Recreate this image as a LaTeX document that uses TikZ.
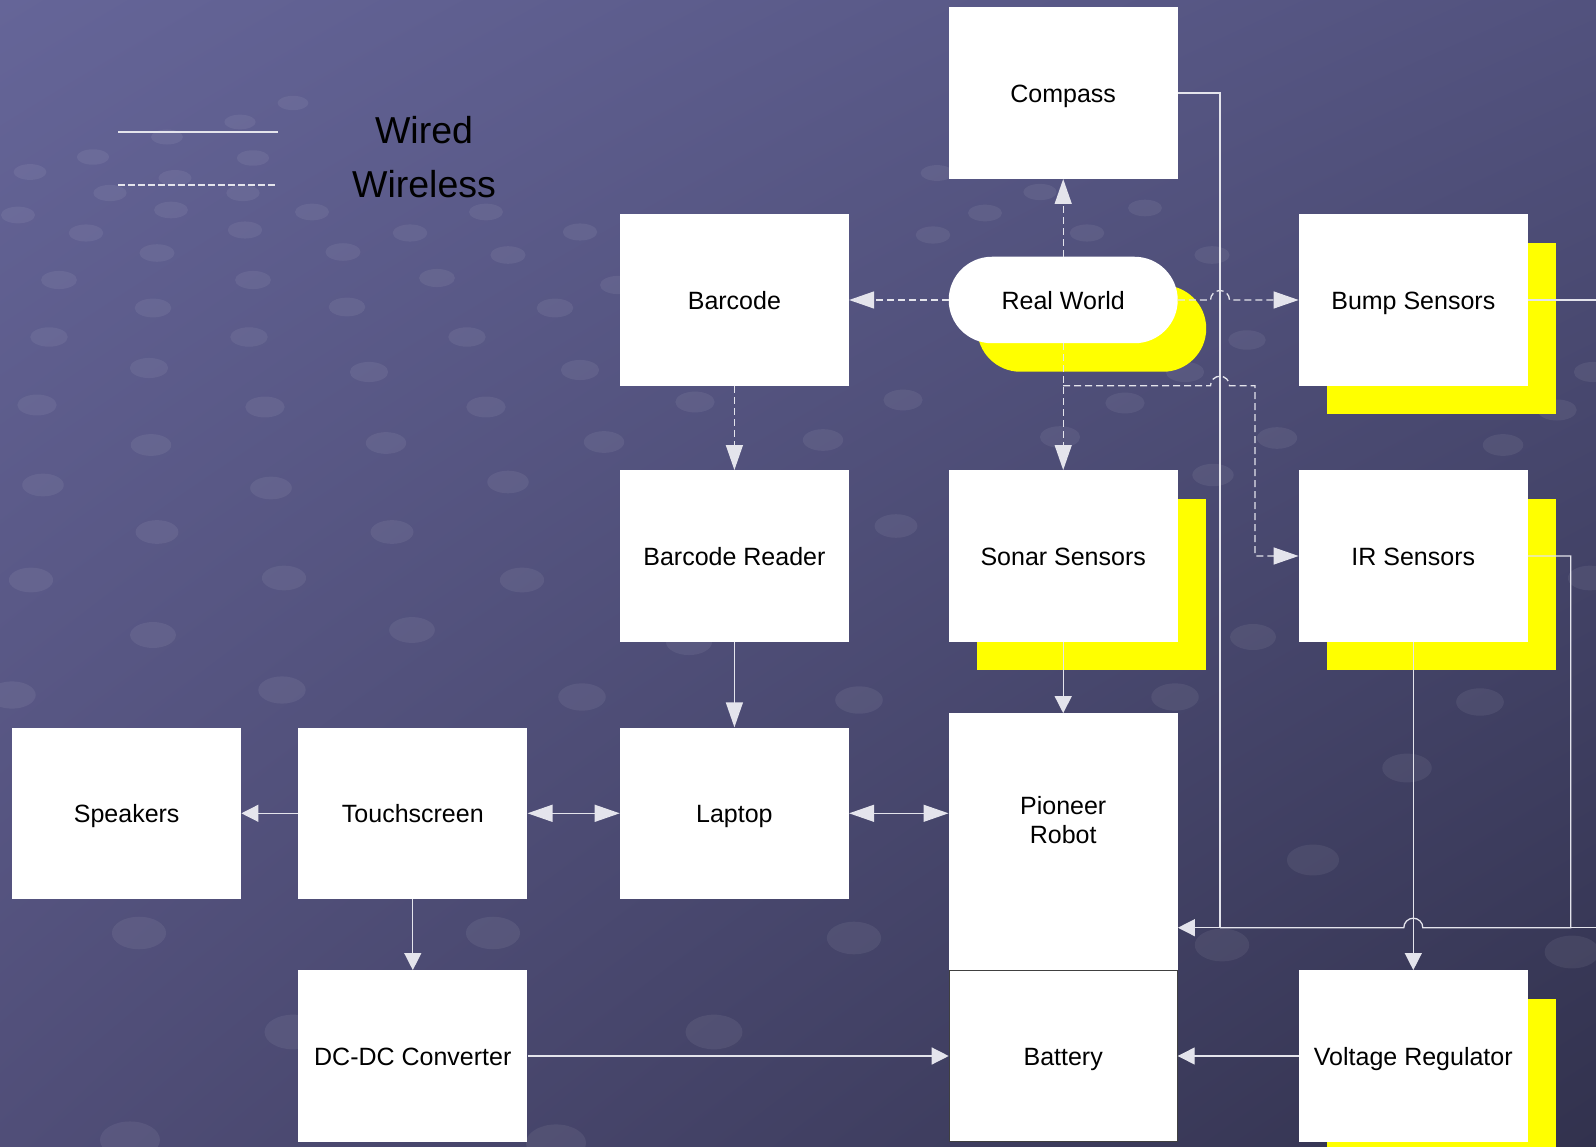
\documentclass[tikz,border=0pt]{standalone}
\usepackage{fontspec}
\setmainfont{Liberation Sans}
\usetikzlibrary{arrows.meta,calc,shadows,shadings}

\definecolor{bgtl}{RGB}{101,101,152}
\definecolor{bgtr}{RGB}{82,82,126}
\definecolor{bgbl}{RGB}{80,78,120}
\definecolor{bgbr}{RGB}{50,50,78}
\definecolor{wire}{RGB}{228,228,236}
\definecolor{shadowyellow}{RGB}{255,255,0}

\tikzset{
  blk/.style={fill=white, minimum width=229pt, minimum height=171.5pt, inner sep=0pt,
    align=center, text height=18.25pt, text depth=0pt, font=\fontsize{25}{29}\selectfont},
  ylw/.style={drop shadow={shadow xshift=28.5pt, shadow yshift=-28.5pt, fill=shadowyellow, opacity=1}},
  wired/.style={draw=wire, line width=1.3pt},
  wireless/.style={draw=wire, line width=1.3pt, dash pattern=on 7pt off 4pt},
  bigtip/.style={-{Triangle[length=25pt,width=17pt]}},
  smalltip/.style={-{Triangle[length=17pt,width=17pt]}},
  bothtip/.style={{Triangle[length=25pt,width=17pt]}-{Triangle[length=25pt,width=17pt]}},
  dot/.style={fill=white, fill opacity=0.065},
  legendtxt/.style={font=\fontsize{37.5}{42}\selectfont, text=black},
}

\begin{document}
\begin{tikzpicture}[x=1pt, y=-1pt]
  \useasboundingbox (0,0) rectangle (1596,1147);

  % background
  \shade[upper left=bgtl, upper right=bgtr, lower left=bgbl, lower right=bgbr] (0,0) rectangle (1596,1147);
  \foreach \px/\py [evaluate=\py as \rx using 14+0.014*\py, evaluate=\py as \ry using 6+0.011*\py] in
     {240/122, 293/103, 167/137, 93/157, 253/158, 30/172, 175/178, 110/193, 243/193,
      18/215, 171/210, 312/212, 486/212, 86/233, 245/230, 410/233, 580/232, 157/253, 343/252,
      508/255, 59/280, 253/280, 437/278, 618/285, 153/308, 347/307, 555/308, 49/337, 249/337,
      467/337, 149/368, 369/372, 580/370, 37/405, 265/407, 486/407, 151/445, 386/443, 604/442,
      43/485, 271/488, 508/482, 157/532, 392/532, 31/580, 284/578, 522/580, 153/635, 412/630,
      12/695, 282/690, 582/697, 937/173, 985/213, 933/235, 1040/192, 1145/208, 1087/233,
      695/402, 823/440, 903/400, 1185/372, 1125/403, 1060/437, 1277/438, 1213/475, 896/526,
      1212/255, 1247/340, 1557/410, 1593/372, 1503/445, 1253/637, 1590/578, 1313/860,
      1222/945, 1572/952, 139/933, 493/933, 130/1140, 556/1143, 293/1032, 859/700, 1175/697,
      1480/702, 1407/768, 854/938, 714/1032, 689/642}
    \fill[dot] (\px,\py) ellipse [x radius=\rx pt, y radius=\ry pt];

  % legend
  \draw[wired] (118,132) -- (278,132);
  \draw[wireless, dash pattern=on 6.5pt off 3.5pt] (118,185) -- (278,185);
  \node[legendtxt] (wiredtxt) at (424,130) {Wired};
  \node[legendtxt] (wirelesstxt) at (424,184) {Wireless};

  % blocks
  \node[blk] (compass) at (1063.2,93) {Compass};
  \node[blk] (barcode) at (734.4,300) {Barcode};
  \node[blk, ylw, minimum height=86.5pt, rounded corners=43.2pt] (rw) at (1063.2,300) {Real World};
  \node[blk, ylw] (bump) at (1413.3,300) {Bump Sensors};
  \node[blk] (reader) at (734.4,556) {Barcode Reader};
  \node[blk, ylw] (sonar) at (1063.2,556) {Sonar Sensors};
  \node[blk, ylw] (ir) at (1413.3,556) {IR Sensors};
  \node[blk] (speakers) at (126.7,813.3) {Speakers};
  \node[blk] (touch) at (412.8,813.3) {Touchscreen};
  \node[blk] (laptop) at (734.4,813.3) {Laptop};
  \node[blk, minimum height=256.7pt] (pioneer) at (1063.2,841.7) {};
  \node[font=\fontsize{25}{29}\selectfont, align=center] (pioneertxt) at (1063.2,820) {Pioneer\\Robot};
  \node[blk] (dcdc) at (412.8,1056) {DC-DC Converter};
  \node[blk, draw=black!75, line width=1pt, minimum width=228pt, minimum height=170.5pt] (battery) at (1063.2,1056) {Battery};
  \node[blk, ylw] (vreg) at (1413.3,1056) {Voltage Regulator};

  % turning points
  \coordinate (hopa) at (1210.5,300);
  \coordinate (hopb) at (1210.5,385.7);
  \coordinate (irturn) at (1255,385.7);
  \coordinate (jn) at (1220,927.7);
  \coordinate (hopc) at (1422.8,927.7);
  \coordinate (irdrop) at (1570.7,927.7);
  \coordinate (bumpdrop) at (1620,927.7);

  % wireless links
  \draw[wireless, bigtip] (rw.north) -- (compass.south);
  \draw[wireless, bigtip] (rw.west) -- (barcode.east);
  \draw[wireless, bigtip] (rw.east) -- (hopa) arc[start angle=180, end angle=0, radius=9.5pt] -- (bump.west);
  \draw[wireless, bigtip] (rw.south) -- (sonar.north);
  \draw[wireless, bigtip] (rw.south |- hopb) -- (hopb) arc[start angle=180, end angle=0, radius=9.5pt]
    -- (irturn) |- (ir.west);
  \draw[wireless, bigtip] (barcode) -- (reader);

  % wired links
  \draw[wired, bigtip] (reader) -- (laptop);
  \draw[wired, smalltip] (sonar) -- (pioneer);
  \draw[wired, bothtip] (touch) -- (laptop);
  \draw[wired, bothtip] (laptop.east) -- (laptop.east -| pioneer.west);
  \draw[wired, smalltip] (touch) -- (speakers);
  \draw[wired, smalltip] (touch) -- (dcdc);
  \draw[wired, smalltip] (dcdc) -- (battery);
  \draw[wired, smalltip] (vreg) -- (battery);
  \draw[wired, smalltip] (ir) -- (vreg);
  \draw[wired, smalltip] (compass.east) -| (jn) -- (jn -| pioneer.east);
  \draw[wired] (ir.east) -| (irdrop) -- (hopc) arc[start angle=0, end angle=180, radius=9.5pt] -- (jn);
  \draw[wired] (bump.east) -| (bumpdrop) -- (irdrop);
\end{tikzpicture}
\end{document}
